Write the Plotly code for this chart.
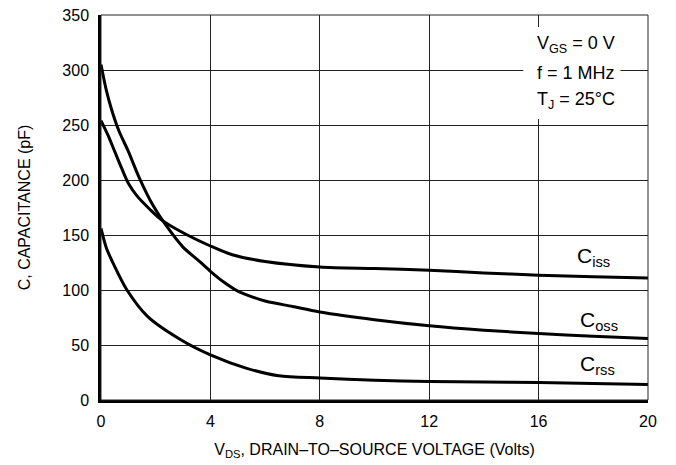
import plotly.graph_objects as go

# Data
vds_ciss = [0, 0.25, 0.5, 0.75, 1.0, 1.3, 1.8, 2.2, 3.0, 4.0, 4.8, 6.0, 8.0, 10, 12, 14, 16, 18, 20]
ciss = [254, 241, 226, 211, 197, 186, 173, 164, 152, 140, 132, 126, 121, 119.5, 118, 115.5, 113.5, 112, 111]

vds_coss = [0, 0.2, 0.4, 0.65, 1.0, 1.4, 1.9, 2.4, 3.0, 3.6, 4.0, 4.5, 5.0, 5.5, 6.0, 7.0, 8.0, 10, 12, 14, 16, 18, 20]
coss = [305, 281, 263, 245, 226, 202, 177, 158, 139, 126, 117, 107, 99, 94, 90, 85, 80, 73, 67.5, 63.5, 60.5, 58, 56]

vds_crss = [0, 0.2, 0.45, 0.95, 1.7, 2.9, 4.0, 5.3, 6.5, 8, 10, 12, 14, 16, 18, 20]
crss = [156, 138, 124, 100, 76, 55, 41, 29, 22, 20, 18, 16.8, 16.3, 15.8, 15, 14]

x_ticks = [0, 4, 8, 12, 16, 20]
y_ticks = [0, 50, 100, 150, 200, 250, 300, 350]

FONT = "Liberation Sans, Arial, Helvetica, sans-serif"

fig = go.Figure()
for xs, ys in [(vds_ciss, ciss), (vds_coss, coss), (vds_crss, crss)]:
    fig.add_trace(go.Scatter(x=xs, y=ys, mode="lines",
                             line=dict(color="black", width=3, shape="spline", smoothing=0.8),
                             showlegend=False, hoverinfo="skip"))

# white box behind conditions text
fig.add_shape(type="rect", xref="x", yref="y", x0=15.44, x1=18.99, y0=255.5, y1=339,
              fillcolor="white", line=dict(width=0), layer="between")
# thin border
fig.add_shape(type="rect", xref="paper", yref="paper", x0=0, x1=1, y0=0, y1=1,
              line=dict(color="#222", width=1), layer="above")

cond = [("V<sub>GS</sub> = 0 V", 323), ("f = 1 MHz", 297), ("T<sub>J</sub> = 25°C", 272)]
for txt, yv in cond:
    fig.add_annotation(x=15.88, y=yv, text=txt, showarrow=False, xanchor="left", yanchor="middle",
                       font=dict(size=18, color="black", family=FONT))

labels = [("C<sub>iss</sub>", 17.34, 130), ("C<sub>oss</sub>", 17.45, 72), ("C<sub>rss</sub>", 17.45, 32)]
for txt, xv, yv in labels:
    fig.add_annotation(x=xv, y=yv, text=txt, showarrow=False, xanchor="left", yanchor="middle",
                       font=dict(size=21, color="black", family=FONT))

fig.update_xaxes(range=[0, 20], tickvals=x_ticks, ticktext=[str(v) for v in x_ticks],
                 showgrid=True, gridcolor="#222", gridwidth=1, zeroline=False,
                 showline=True, linecolor="black", linewidth=2.5,
                 ticks="outside", ticklen=5, tickcolor="rgba(0,0,0,0)", automargin=False,
                 tickfont=dict(size=16, color="black", family=FONT),
                 title=dict(text="V<sub>DS</sub>, DRAIN–TO–SOURCE VOLTAGE (Volts)",
                            font=dict(size=16, color="black", family=FONT), standoff=15))
fig.update_yaxes(range=[0, 350], tickvals=y_ticks, ticktext=[str(v) for v in y_ticks],
                 showgrid=True, gridcolor="#222", gridwidth=1, zeroline=False,
                 showline=True, linecolor="black", linewidth=2.5,
                 ticks="outside", ticklen=6, tickcolor="rgba(0,0,0,0)", automargin=False,
                 ticklabeloverflow="allow",
                 tickfont=dict(size=16, color="black", family=FONT),
                 title=dict(text="C, CAPACITANCE (pF)", font=dict(size=16, color="black", family=FONT), standoff=28))

# page body has an 8px margin, so offsets are compensated
fig.update_layout(width=668, height=457, margin=dict(l=93, r=28, t=7, b=65),
                  plot_bgcolor="white", paper_bgcolor="white",
                  font=dict(family=FONT, color="black", size=16))

fig.write_html("out.html")
